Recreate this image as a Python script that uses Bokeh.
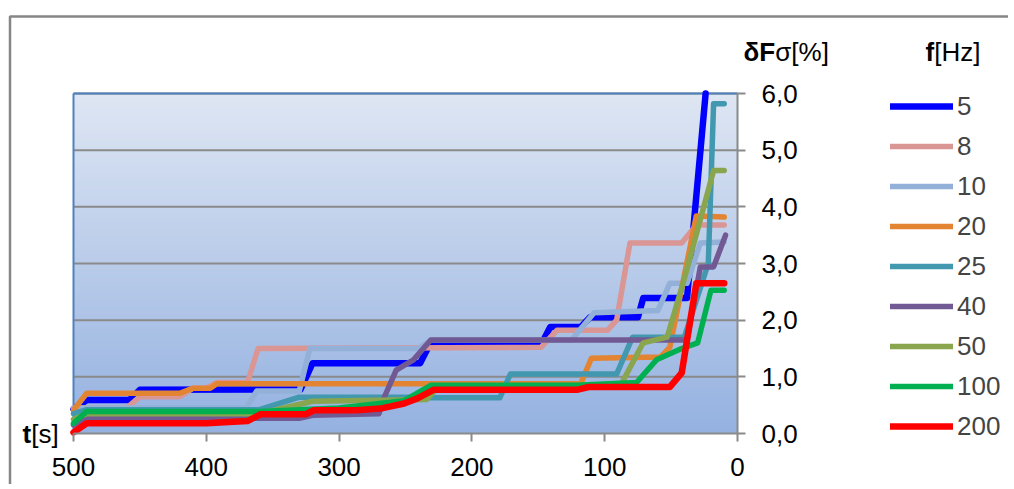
import numpy as np
from bokeh.plotting import figure
from bokeh.models import (Range1d, FixedTicker, CustomJSTickFormatter, Legend,
                          LegendItem, Label, BoxAnnotation)
from bokeh.embed import file_html
from bokeh.resources import INLINE

# ---------------- data ----------------
freq_labels = ["5", "8", "10", "20", "25", "40", "50", "100", "200"]

t_5 = [500, 490, 458, 450, 329, 320, 239, 232, 148, 141, 118, 111, 75, 71, 38, 24]
v_5 = [0.43, 0.59, 0.59, 0.77, 0.78, 1.24, 1.24, 1.56, 1.56, 1.88, 1.88, 2.05, 2.05, 2.39, 2.39, 6.0]

t_8 = [500, 460, 450, 420, 410, 400, 392, 369, 361, 148, 136, 98, 91, 81, 42, 31, 10]
v_8 = [0.45, 0.45, 0.65, 0.65, 0.80, 0.80, 0.90, 0.90, 1.50, 1.52, 1.82, 1.82, 2.00, 3.36, 3.36, 3.68, 3.68]

t_10 = [500, 370, 362, 330, 322, 240, 231, 125, 108, 60, 51, 38, 28, 10]
v_10 = [0.45, 0.45, 0.75, 0.75, 1.50, 1.50, 1.65, 1.65, 2.13, 2.17, 2.65, 2.65, 3.36, 3.38]

t_20 = [500, 490, 420, 410, 397, 392, 118, 110, 58, 51, 31, 10]
v_20 = [0.41, 0.71, 0.71, 0.80, 0.80, 0.88, 0.88, 1.33, 1.35, 1.52, 3.84, 3.82]

t_25 = [500, 490, 360, 330, 244, 229, 179, 171, 91, 79, 40, 22, 18, 10]
v_25 = [0.35, 0.42, 0.42, 0.64, 0.64, 0.63, 0.63, 1.05, 1.05, 1.70, 1.70, 3.00, 5.82, 5.82]

t_40 = [500, 490, 330, 320, 270, 266, 257, 244, 231, 38, 28, 18, 9]
v_40 = [0.15, 0.27, 0.27, 0.32, 0.35, 0.64, 1.12, 1.30, 1.65, 1.65, 2.94, 2.94, 3.50]

t_50 = [500, 490, 360, 320, 234, 225, 88, 71, 53, 41, 18, 10]
v_50 = [0.25, 0.35, 0.35, 0.57, 0.60, 0.83, 0.85, 1.60, 1.70, 2.65, 4.64, 4.64]

t_100 = [500, 490, 360, 300, 251, 231, 121, 76, 61, 42, 30, 20, 10]
v_100 = [0.18, 0.39, 0.39, 0.45, 0.58, 0.85, 0.85, 0.90, 1.30, 1.50, 1.60, 2.53, 2.53]

t_200 = [500, 490, 400, 369, 359, 325, 319, 287, 269, 251, 241, 229, 121, 112, 51, 42, 31, 10]
v_200 = [0.02, 0.18, 0.18, 0.22, 0.34, 0.34, 0.41, 0.41, 0.44, 0.53, 0.62, 0.77, 0.77, 0.82, 0.82, 1.07, 2.65, 2.65]

series_t = [t_5, t_8, t_10, t_20, t_25, t_40, t_50, t_100, t_200]
series_v = [v_5, v_8, v_10, v_20, v_25, v_40, v_50, v_100, v_200]

x_ticks = [500, 400, 300, 200, 100, 0]
y_ticks = [0, 1, 2, 3, 4, 5, 6]
x_lo, x_hi = 0, 500
y_lo, y_hi = 0, 6

# ---------------- layout / style ----------------
colors = ["#0000FF", "#D99694", "#93B1D8", "#E38433", "#4198AF",
          "#715A94", "#89A54E", "#00B050", "#FF0000"]
widths = [6.5, 5.5, 5.5, 5.5, 5.5, 5.5, 5.5, 5.5, 6.5]
FONT = "Liberation Sans"
FS = "26px"
GREY = "#8A8A8A"

W, H = 1008, 484                   # canvas
PL, PT, PW, PH = 73, 93, 664, 340  # plot area inside canvas (px)
sx = PW / (x_hi - x_lo)
sy = PH / (y_hi - y_lo)
x_range = Range1d(x_hi + PL / sx, x_hi - (W - PL) / sx)
y_bottom = y_lo - (H - PT - PH) / sy
y_range = Range1d(y_bottom, y_bottom + H / sy)

p = figure(frame_width=W, frame_height=H,
           min_border_left=0, min_border_right=0, min_border_top=0, min_border_bottom=0,
           x_range=x_range, y_range=y_range,
           y_axis_location="right",
           output_backend="svg", toolbar_location=None,
           background_fill_color="white", border_fill_color="white")
p.outline_line_color = None
p.xgrid.visible = False
p.ygrid.visible = False

# gradient plot area
n = 85
edges = np.linspace(y_lo, y_hi, n + 1)
top_c = np.array([222, 230, 243])
bot_c = np.array([148, 177, 224])
cols = []
for i in range(n):
    f = (edges[i] + edges[i + 1]) / 2 / (y_hi - y_lo)
    c = bot_c + (top_c - bot_c) * f
    cols.append("#%02x%02x%02x" % tuple(int(round(v)) for v in c))
p.quad(left=x_hi, right=x_lo, bottom=edges[:-1], top=edges[1:],
       fill_color=cols, line_color=cols, line_width=1, level="image")

# horizontal gridlines
gy = y_ticks[1:]
p.segment(x0=[x_hi] * len(gy), x1=[x_lo] * len(gy), y0=gy, y1=gy,
          line_color=GREY, line_width=2, level="underlay")

# plot-area border (left and top, blue)
p.segment(x0=[x_hi, x_hi], x1=[x_hi, x_lo], y0=[y_lo, y_hi], y1=[y_hi, y_hi],
          line_color="#4F81BD", line_width=2, level="underlay")

# axes (placed at the plot-area edges)
for ax in (p.xaxis[0], p.yaxis[0]):
    ax.axis_line_color = GREY
    ax.axis_line_width = 2
    ax.major_tick_line_color = GREY
    ax.major_tick_line_width = 2
    ax.major_tick_out = 8
    ax.major_tick_in = 0
    ax.minor_tick_out = 0
    ax.minor_tick_in = 0
    ax.major_label_text_font = FONT
    ax.major_label_text_font_size = FS
    ax.major_label_text_color = "black"
p.xaxis.fixed_location = y_lo
p.xaxis.bounds = (x_lo, x_hi)
p.xaxis.ticker = FixedTicker(ticks=x_ticks)
p.xaxis.major_label_standoff = 16
p.yaxis.fixed_location = x_lo
p.yaxis.bounds = (y_lo, y_hi)
p.yaxis.ticker = FixedTicker(ticks=y_ticks)
p.yaxis.major_label_standoff = 16
p.yaxis.formatter = CustomJSTickFormatter(code="return tick.toFixed(1).replace('.', ',');")

# series
items = []
for lab, t, v, c, w in zip(freq_labels, series_t, series_v, colors, widths):
    r = p.line(t, v, line_color=c, line_width=w, line_join="round", line_cap="round")
    items.append(LegendItem(label=lab, renderers=[r]))

legend = Legend(items=items, location=(890, H - 446), orientation="vertical",
                padding=0, spacing=0, margin=0,
                glyph_width=63, glyph_height=40, label_height=40, label_standoff=4,
                label_text_font=FONT, label_text_font_size=FS,
                label_text_baseline="middle",
                background_fill_alpha=0, border_line_color=None)
p.add_layout(legend)

# titles (mixed bold / normal), screen px from the canvas bottom-left
def lab(x, y, text, bold):
    p.add_layout(Label(x=x, y=y, x_units="screen", y_units="screen", text=text,
                       text_font=FONT, text_font_size=FS,
                       text_font_style="bold" if bold else "normal",
                       text_baseline="middle", text_align="left", text_color="black"))

lab(22, H - 433, "t", True)
lab(30.7, H - 433, "[s]", False)
lab(743, H - 51, "δF", True)
lab(774.8, H - 51, "σ[%]", False)
lab(925, H - 51, "f", True)
lab(933.7, H - 51, "[Hz]", False)

# chart-area border
p.add_layout(BoxAnnotation(left=9.5, right=1200, top=H - 16, bottom=-500,
                           left_units="screen", right_units="screen",
                           top_units="screen", bottom_units="screen",
                           fill_alpha=0, line_color="#868686", line_alpha=1.0,
                           line_width=2.5))

open("out.html", "w").write(file_html(p, INLINE))
